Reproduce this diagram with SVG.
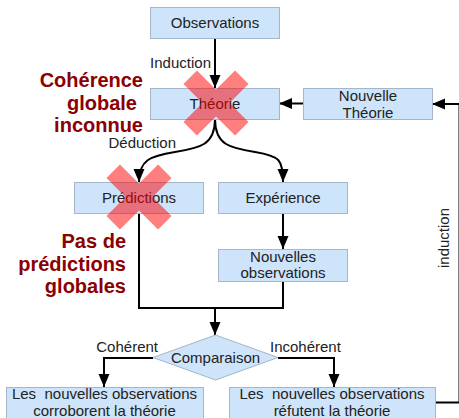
<svg xmlns="http://www.w3.org/2000/svg" width="459" height="418" viewBox="0 0 459 418">
<style>
.box{fill:#cde4fa;stroke:#a4b6c8;stroke-width:1}
.t{font-family:"Liberation Sans",Arial,sans-serif;font-size:15px;fill:#222;text-anchor:middle;white-space:pre}
.l{font-family:"Liberation Sans",Arial,sans-serif;font-size:15px;fill:#222;white-space:pre}
.r{font-family:"Liberation Sans",Arial,sans-serif;font-size:20px;font-weight:bold;fill:#8b0000;text-anchor:end}
.c{fill:none;stroke:#000;stroke-width:2;marker-end:url(#ah)}
.c0{fill:none;stroke:#000;stroke-width:2}
.x{fill:#ff0000;opacity:0.5}
</style>
<defs>
<marker id="ah" markerUnits="userSpaceOnUse" markerWidth="14" markerHeight="12" refX="13" refY="5.5" orient="auto">
<path d="M0,0 L13,5.5 L0,11 z" fill="#000"/>
</marker>
</defs>
<g id="connectors">
<path class="c" d="M215,38 V88"/>
<path class="c" d="M303,103.5 H279"/>
<path class="c" d="M215,119 C215,145 200,148 175,152 C150,156 139,160 139,182"/>
<path class="c" d="M215,119 C215,145 230,148 255,152 C280,156 283,160 283,182"/>
<path class="c" d="M283,213 V249"/>
<path class="c0" d="M139,213 V308 H283 V281"/>
<path class="c" d="M215,308 V335"/>
<path class="c" d="M153,358 H104 V387"/>
<path class="c" d="M278,358 H334 V387"/>
<path class="c" d="M435,402.5 H459.5 V104 H432"/>
</g>
<g id="observations">
<rect class="box" x="150.5" y="7.5" width="129" height="31"/>
<text class="t" x="215" y="28">Observations</text>
</g>
<g id="theorie">
<rect class="box" x="150.5" y="88.5" width="129" height="31"/>
<text class="t" x="215" y="109">Théorie</text>
</g>
<g id="nouvelle-theorie">
<rect class="box" x="303.5" y="88.5" width="129" height="31"/>
<text class="t" x="368" y="101">Nouvelle</text>
<text class="t" x="368" y="118">Théorie</text>
</g>
<g id="predictions">
<rect class="box" x="74.5" y="182.5" width="129" height="31"/>
<text class="t" x="139" y="203">Prédictions</text>
</g>
<g id="experience">
<rect class="box" x="218.5" y="182.5" width="129" height="31"/>
<text class="t" x="283" y="203">Expérience</text>
</g>
<g id="nouvelles-observations">
<rect class="box" x="218.5" y="249.5" width="129" height="32"/>
<text class="t" x="283" y="262">Nouvelles</text>
<text class="t" x="283" y="278">observations</text>
</g>
<g id="comparaison">
<path class="box" d="M215.5,335 L278,357.5 L215.5,380 L153,357.5 z"/>
<text class="t" x="215.5" y="363">Comparaison</text>
</g>
<g id="corroborent">
<rect class="box" x="6.5" y="387.5" width="197" height="31"/>
<text class="t" x="104.5" y="399">Les  nouvelles observations</text>
<text class="t" x="104.5" y="416">corroborent la théorie</text>
</g>
<g id="refutent">
<rect class="box" x="229.5" y="387.5" width="206" height="31"/>
<text class="t" x="332" y="399">Les  nouvelles observations</text>
<text class="t" x="332" y="416">réfutent la théorie</text>
</g>
<g id="labels">
<text class="l" x="211" y="68" text-anchor="end">Induction</text>
<text class="l" x="176" y="148" text-anchor="end">Déduction</text>
<text class="l" x="158" y="352" text-anchor="end">Cohérent</text>
<text class="l" x="270" y="352">Incohérent</text>
<text class="l" transform="translate(449,238) rotate(-90)" text-anchor="middle">induction</text>
<text class="r" x="143" y="87">Cohérence</text>
<text class="r" x="137" y="109.5">globale</text>
<text class="r" x="143" y="132">inconnue</text>
<text class="r" x="126" y="248">Pas de</text>
<text class="r" x="126" y="270.5">prédictions</text>
<text class="r" x="126" y="293">globales</text>
</g>
<g id="cross-theorie" class="x" transform="translate(216,103)">
<rect x="-36.5" y="-9.5" width="73" height="19" transform="rotate(45)"/>
<rect x="-36.5" y="-9.5" width="73" height="19" transform="rotate(-45)"/>
</g>
<g id="cross-predictions" class="x" transform="translate(139,197)">
<rect x="-36.5" y="-9.5" width="73" height="19" transform="rotate(45)"/>
<rect x="-36.5" y="-9.5" width="73" height="19" transform="rotate(-45)"/>
</g>
</svg>
